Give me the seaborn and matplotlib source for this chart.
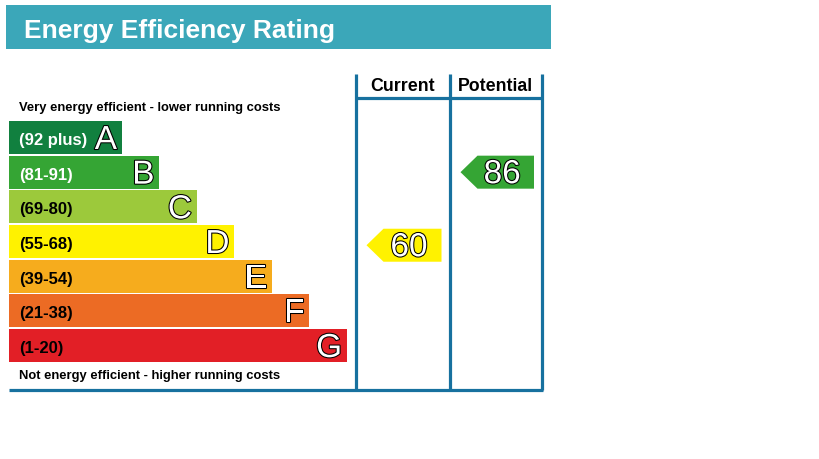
import matplotlib
matplotlib.use("Agg")
import matplotlib.pyplot as plt
import matplotlib.patheffects as pe
import matplotlib.transforms as mtrans
from matplotlib.patches import Polygon, Rectangle
import seaborn as sns
import pandas as pd

# ---------------- data ----------------
title = "Energy Efficiency Rating"
bands = ["A", "B", "C", "D", "E", "F", "G"]
range_labels = ["(92 plus)", "(81-91)", "(69-80)", "(55-68)", "(39-54)", "(21-38)", "(1-20)"]
band_lo = [92, 81, 69, 55, 39, 21, 1]
band_hi = [100, 91, 80, 68, 54, 38, 20]
bar_units = [3, 4, 5, 6, 7, 8, 9]
band_colors = ["#11803f", "#35a534", "#9cc93b", "#fff200", "#f6ac1d", "#ec6b24", "#e21f26"]
label_colors = ["white", "white", "black", "black", "black", "black", "black"]
column_titles = ["Current", "Potential"]
ratings = [60, 86]  # current, potential
top_text = "Very energy efficient - lower running costs"
bottom_text = "Not energy efficient - higher running costs"

TITLE_BG = "#3ba7b9"
FRAME = "#17719f"

plt.rcParams['font.family'] = ['Liberation Sans', 'DejaVu Sans']

W, H = 819, 460
fig = plt.figure(figsize=(W / 100, H / 100), dpi=100)
fig.patch.set_facecolor("white")

# ---------------- geometry (pixels) ----------------
UNIT = 37.5          # pixels per bar unit
X0 = 9               # left edge of bars
ROW0 = 138.5         # centre of first row
PITCH = 34.67        # row pitch

def px2x(p):
    return (p - X0) / UNIT

def py2y(p):
    return (p - ROW0) / PITCH

# main axes: x in bar units, y in band rows (full figure)
ax = fig.add_axes([0, 0, 1, 1])

df = pd.DataFrame({"band": bands, "units": bar_units})
sns.barplot(data=df, x="units", y="band", hue="band", palette=band_colors,
            orient="h", width=0.952, saturation=1, legend=False,
            linewidth=0, ax=ax)
ax.set_xlim(px2x(0), px2x(W))
ax.set_ylim(py2y(H), py2y(0))
ax.axis("off")

outline = [pe.withStroke(linewidth=1.5, foreground="black")]
for i, (b, lab, u) in enumerate(zip(bands, range_labels, bar_units)):
    ax.text(px2x(19), i + 6.5 / PITCH, lab, color=label_colors[i], fontsize=12,
            fontweight="bold", ha="left", va="baseline")
    ax.text(u - 4.5 / UNIT, i + 11.5 / PITCH, b, color="white", fontsize=24,
            ha="right", va="baseline", path_effects=outline)

# ---------------- overlay in pixel coordinates ----------------
ov = fig.add_axes([0, 0, 1, 1])
ov.set_xlim(0, W)
ov.set_ylim(H, 0)
ov.axis("off")
ov.patch.set_alpha(0)

ov.add_patch(Rectangle((6, 6), 545, 43.5, facecolor=TITLE_BG, edgecolor="none"))
ov.text(24, 38, title, color="white", fontsize=19, fontweight="bold",
        ha="left", va="baseline")

ov.text(19, 111.5, top_text, fontsize=9.4, fontweight="bold", ha="left", va="baseline")
ov.text(19, 379, bottom_text, fontsize=9.4, fontweight="bold", ha="left", va="baseline")

lw = 2.3
col_edges = [355.5, 449.5, 542]
for xe in col_edges:
    ov.plot([xe, xe], [75, 391], color=FRAME, lw=lw, solid_capstyle="butt")
ov.plot([355.5, 542], [99, 99], color=FRAME, lw=lw, solid_capstyle="butt")
ov.plot([9, 543.2], [390.5, 390.5], color=FRAME, lw=lw, solid_capstyle="butt")

for k, name in enumerate(column_titles):
    cx = (col_edges[k] + col_edges[k + 1]) / 2
    ov.text(cx, 91, name, fontsize=12.8, fontweight="bold", ha="center", va="baseline")

# ---------------- rating arrows ----------------
blend = mtrans.blended_transform_factory(ov.transData, ax.transData)
half = 0.952 / 2
for k, val in enumerate(ratings):
    bi = next(i for i in range(len(bands)) if band_lo[i] <= val <= band_hi[i])
    mid = (band_lo[bi] + band_hi[bi]) / 2
    size = band_hi[bi] - band_lo[bi] + 1
    yc = bi + (mid - val) / size
    tip = col_edges[k] + 11
    right = col_edges[k + 1] - 8
    body = tip + 17
    poly = Polygon([(tip, yc), (body, yc - half), (right, yc - half),
                    (right, yc + half), (body, yc + half)], closed=True,
                   facecolor=band_colors[bi], edgecolor="none", transform=blend)
    ov.add_patch(poly)
    ov.text((body + right) / 2 - 3.5, yc + 11 / PITCH, str(val), transform=blend,
            color="white", fontsize=24, ha="center", va="baseline",
            path_effects=outline)

fig.savefig("out.png", dpi=100, facecolor="white")
